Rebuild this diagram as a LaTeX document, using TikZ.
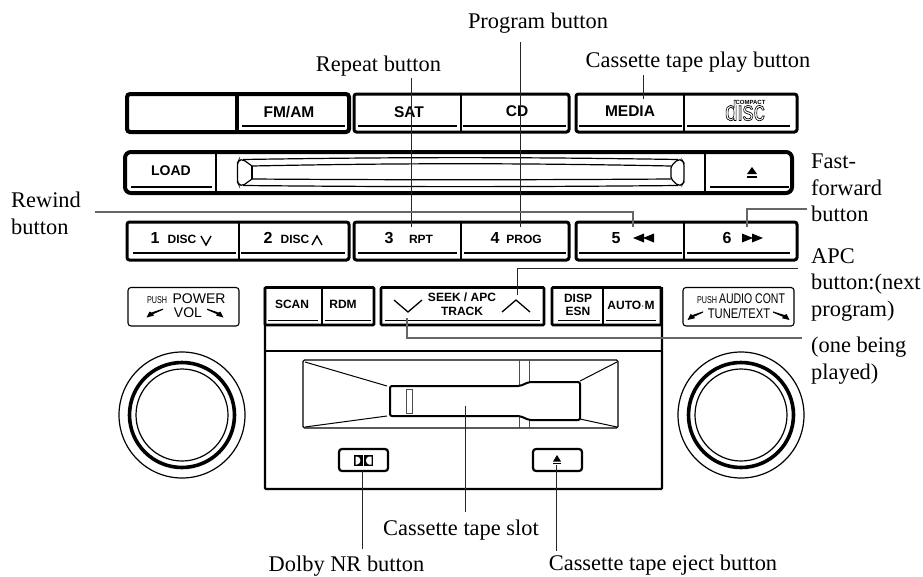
\documentclass[tikz,border=0pt]{standalone}
\usepackage{fontspec}
\setmainfont{Liberation Serif}
\setsansfont{Liberation Sans}
\newcommand\hb[1]{\fontsize{#1}{#1}\selectfont\sffamily\bfseries}
\newcommand\hr[1]{\fontsize{#1}{#1}\selectfont\sffamily}
\tikzset{
  frame/.style={draw=black,line width=3pt,rounded corners=2.5pt},
  heavy/.style={draw=black,line width=4pt,rounded corners=4pt},
  thinframe/.style={draw=black,line width=1.1pt,rounded corners=3pt},
  midframe/.style={draw=black,line width=2.2pt,rounded corners=3pt},
  div/.style={line width=1.2pt},
  uline/.style={line width=1.2pt},
  lead/.style={draw=black!85,line width=.8pt},
  grayLead/.style={draw=black!60,line width=1.1pt},
  lbl/.style={font=\fontsize{22.4}{27}\selectfont,inner sep=0pt,anchor=base},
  lbll/.style={font=\fontsize{22.4}{26.6}\selectfont,inner sep=0pt,anchor=north west,align=left},
  btn/.style={font=\hb{15.5},inner sep=0pt},
  sbtn/.style={font=\hb{12},inner sep=0pt},
  num/.style={font=\hb{16},inner sep=0pt},
  pnl/.style={font=\hr{14},inner sep=0pt},
}
\begin{document}
\begin{tikzpicture}[x=1pt,y=-1pt]
\useasboundingbox (0,0) rectangle (923,576);
\fill[white] (0,0) rectangle (923,576);
% ---- row 1
\draw[heavy,rounded corners=3pt] (127,94) rectangle (349,132);
\draw[line width=3.4pt] (237,94)--(237,132);
\draw[uline] (242,126)--(345,126);
\draw[frame] (354,94) rectangle (569,132);
\draw[div] (461,94)--(461,132);
\draw[uline] (358,126)--(457,126) (463,126)--(566,126);
\draw[frame] (576,94) rectangle (797,132);
\draw[line width=2.4pt] (684,94)--(684,132);
\draw[uline] (579,126)--(682,126) (687,126)--(790,126);
\node[btn] (fmam) at (289,112) {FM/AM};
\node[btn] (sat) at (409,112) {SAT};
\node[btn] (cd) at (517,111) {CD};
\node[btn] (media) at (630,111) {MEDIA};
\node[font=\hb{28},inner sep=0pt,anchor=base] (discLogo) at (745,120.5)
  {\special{pdf:code 1 Tr 0.7 w}\scalebox{.8}[1]{\mdseries disc}\special{pdf:code 0 Tr 1 w}};
\fill[white] (736,99) rectangle (767,104.5);
\node[font=\hb{6},inner sep=0pt] (compact) at (750.5,102) {COMPACT};
% ---- row 2
\draw[heavy,rounded corners=6pt] (125,152) rectangle (792,193);
\draw[div] (216,152)--(216,193) (705,152)--(705,193);
\draw[uline] (131,187)--(212,187) (710,187)--(789,187);
\node[font=\hb{14},inner sep=0pt] (load) at (171,171) {LOAD};
\draw[line width=1.2pt,rounded corners=2pt] (252,166) -- (243,159.5) -- (239,160) -- (237.5,163) -- (237.5,182) -- (239,185) -- (243,185.5) -- (252,179);
\draw[line width=1.2pt] (243,159.5) .. controls (400,157) and (520,157) .. (678,159.5)
   (252,166) .. controls (400,163) and (520,163) .. (671,166)
   (252,179) .. controls (400,180) and (520,180) .. (671,179)
   (243,185.5) .. controls (400,187) and (520,187) .. (678,185.5);
\draw[line width=1.2pt,rounded corners=2pt] (671,166) -- (678,159.5) -- (682,160) -- (684,163) -- (684,182) -- (682,185) -- (678,185.5) -- (671,179) -- cycle;
\draw[line width=1.2pt] (252,166)--(252,179);
\fill (752,167) -- (757,174) -- (747,174) -- cycle;
\fill (747,175.5) rectangle (757,177.5);
% ---- row 3
\draw[frame] (127,222) rectangle (349,260);
\draw[div] (239,222)--(239,260);
\draw[uline] (133,253)--(236,253) (241,253)--(345,253);
\draw[frame] (354,222) rectangle (569,260);
\draw[div] (461,222)--(461,260);
\draw[uline] (358,253)--(457,253) (464,253)--(566,253);
\draw[frame] (576,222) rectangle (797,260);
\draw[div] (684,222)--(684,260);
\draw[uline] (579,253)--(682,253) (687,253)--(790,253);
\node[num] (n1) at (155,238) {1};
\node[sbtn] (disc1) at (182,239.5) {DISC};
\draw[line width=1.4pt] (201,236)--(206,245)--(211,236);
\node[num] (n2) at (268,238) {2};
\node[sbtn] (disc2) at (295,239.5) {DISC};
\draw[line width=1.4pt] (312,245)--(317,236)--(322,245);
\node[num] (n3) at (389,238) {3};
\node[sbtn] (rpt) at (421,239.5) {RPT};
\node[num] (n4) at (495,238) {4};
\node[sbtn] (prog) at (524,239.5) {PROG};
\node[num] (n5) at (616,238) {5};
\fill (633,238)--(644,233.5)--(644,242.5)--cycle (643,238)--(654,233.5)--(654,242.5)--cycle;
\node[num] (n6) at (727,238) {6};
\fill (763,238)--(752,233.5)--(752,242.5)--cycle (753,238)--(742,233.5)--(742,242.5)--cycle;
% ---- power box
\draw[thinframe] (128,287.5) rectangle (239,326);
\node[font=\hr{10},inner sep=0pt] (push1) at (157,300) {\scalebox{.72}[1]{PUSH}};
\node[pnl] (power) at (199,299) {POWER};
\node[pnl] (vol) at (188,313) {VOL};
\fill (146.5,317.5) -- (149.5,311.5) -- (151.5,312.5) -- (163,308.6) -- (163,309.8) -- (153,314.2) -- (154,315.6) -- cycle;
\fill (223.5,317.5) -- (220.5,311.5) -- (218.5,312.5) -- (207,308.6) -- (207,309.8) -- (217,314.2) -- (216,315.6) -- cycle;
% ---- audio box
\draw[thinframe] (683,287.5) rectangle (794,326);
\node[font=\hr{10},inner sep=0pt] (push2) at (707,300) {\scalebox{.72}[1]{PUSH}};
\node[pnl] (audio) at (752,299) {\scalebox{.75}[1]{AUDIO CONT}};
\node[pnl] (tune) at (739,313) {\scalebox{.8}[1]{TUNE/TEXT}};
\fill (687.5,320) -- (690.5,314) -- (692.5,315) -- (703,311.4) -- (703,312.6) -- (694,316.8) -- (695,318.2) -- cycle;
\fill (789.5,320) -- (786.5,314) -- (784.5,315) -- (773,311.4) -- (773,312.6) -- (783,316.8) -- (782,318.2) -- cycle;
% ---- centre panel
\draw[line width=2.4pt,rounded corners=1pt] (265,287) -- (265,489) -- (662,489) -- (662,287);
\draw[line width=1.5pt] (265,351)--(661,351);
\draw[frame,line width=2.8pt,rounded corners=1pt] (265,287.5) rectangle (374,325);
\draw[div] (322,288)--(322,325);
\draw[uline] (268,320.5)--(318,320.5) (325,320.5)--(371,320.5);
\draw[frame,line width=2.8pt,rounded corners=1pt] (381,287.5) rectangle (544,325);
\draw[uline] (385,320.5)--(540,320.5);
\draw[frame,line width=2.8pt,rounded corners=1pt] (552,287.5) rectangle (661,325);
\draw[div] (603,288)--(603,325);
\draw[uline] (558,320.5)--(600,320.5) (606,320.5)--(656,320.5);
\node[sbtn] (scan) at (292,304.5) {SCAN};
\node[sbtn] (rdm) at (343,304.5) {RDM};
\node[sbtn] (seek) at (462,297) {SEEK / APC};
\node[sbtn] (track) at (462,311.5) {TRACK};
\node[sbtn] (disp) at (578,298.5) {DISP};
\node[sbtn] (esn) at (578,311) {ESN};
\node[sbtn] (auto) at (631,305) {AUTO$\cdot$M};
\draw[line width=1.3pt] (394,300)--(408,312)--(422,300);
\draw[line width=1.3pt] (502,312)--(516,300)--(530,312);
% tape window
\draw[line width=1.3pt,rounded corners=1.5pt] (303,360) rectangle (618,428);
\draw[black!70,line width=1pt] (519,360)--(519,386) (529,360)--(529,382) (519,416)--(519,428) (529,420)--(529,428);
\draw[line width=1pt] (305,362)--(387,386) (305,427)--(387,416) (580,381)--(617,362) (580,419)--(617,427);
\draw[line width=2pt,rounded corners=2pt,fill=white] (520,386)--(529,382)--(580,382)--(580,420)--(529,420)--(520,416)--(390,416)--(390,386)--cycle;
\draw[black!70,line width=1pt] (406,389) rectangle (412,413);
% buttons in panel
\draw[midframe] (339,449) rectangle (388,471);
\draw[midframe] (533,449) rectangle (582,471);
\fill (354,455) rectangle (362.5,466);
\fill[white] (355.5,456.5) -- (357,456.5) .. controls (361.5,457) and (361.5,464) .. (357,464.5) -- (355.5,464.5) -- cycle;
\fill (364,455) rectangle (373,466);
\fill[white] (371.5,456.5) -- (369,456.5) .. controls (365,457) and (365,464) .. (369,464.5) -- (371.5,464.5) -- cycle;
\fill (557,455) -- (561,461.5) -- (553,461.5) -- cycle;
\fill (553,462.8) rectangle (561,464.2);
% knobs
\foreach \c/\n in {182/kl,741/kr}{
  \coordinate (\n) at (\c,415);
  \draw[line width=1.2pt] (\n) circle[radius=63];
  \draw[line width=3.6pt] (\n) circle[radius=52.5];
  \draw[line width=1.2pt] (\n) circle[radius=46];
}
% ---- labels
\node[lbl] (lProg) at (538,28) {Program button};
\node[lbl] (lRep) at (378.5,71) {Repeat button};
\node[lbl] (lPlay) at (698,67) {Cassette tape play button};
\node[lbll] (lFast) at (811,153.7) {Fast-\\forward\\button};
\node[lbll] (lRew) at (11,191.7) {Rewind\\button};
\node[lbll] (lApc) at (811,248) {APC\\button:(next\\program)};
\node[lbll] (lOne) at (811,336.7) {(one being\\played)};
\node[lbl] (lSlot) at (461,535) {Cassette tape slot};
\node[lbl] (lDolby) at (346.5,571) {Dolby NR button};
\node[lbl] (lEject) at (663,570.5) {Cassette tape eject button};
% ---- leaders
\coordinate (eProg) at (520,227);
\coordinate (eRep) at (411,227);
\coordinate (ePlay) at (643,99);
\coordinate (eRew) at (633,227);
\coordinate (eFast) at (747,227);
\coordinate (eApc) at (517,295);
\coordinate (eOne) at (407,318);
\coordinate (eSlot) at (465,406);
\coordinate (eDolby) at (362,471);
\coordinate (eEject) at (556,465);
\coordinate (sRew) at (95,212);
\coordinate (sFast) at (807,209);
\coordinate (sApc) at (798,268);
\coordinate (sOne) at (802,338);
\draw[lead,shorten <=9pt] (lProg.south -| eProg) -- (eProg);
\draw[lead,shorten <=2pt] (lRep.south -| eRep) -- (eRep);
\draw[lead,shorten <=3pt] (lPlay.south -| ePlay) -- (ePlay);
\draw[grayLead] (sRew) -| (eRew);
\draw[grayLead] (sFast) -| (eFast);
\draw[lead] (sApc) -| (eApc);
\draw[grayLead] (sOne) -| (eOne);
\draw[lead,shorten <=7pt] (lSlot.north -| eSlot) -- (eSlot);
\draw[lead,shorten <=6pt] (lDolby.north -| eDolby) -- (eDolby);
\draw[lead,shorten <=4pt] (lEject.north -| eEject) -- (eEject);
\end{tikzpicture}
\end{document}
